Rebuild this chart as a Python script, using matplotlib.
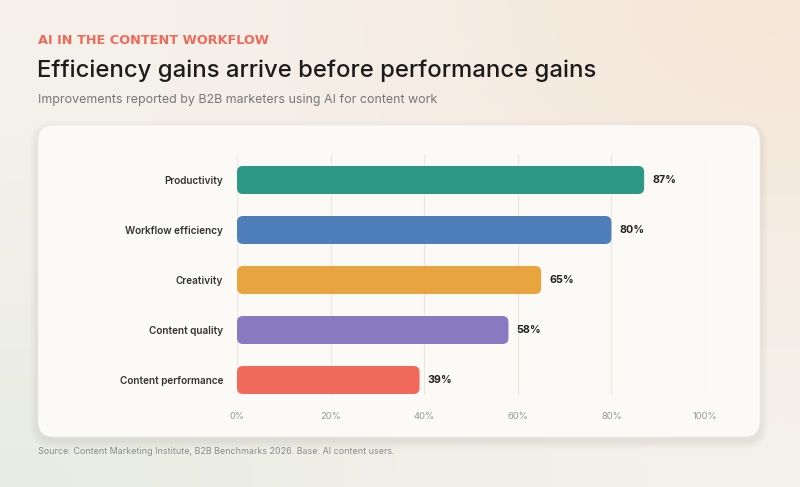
import numpy as np
import matplotlib
matplotlib.use("Agg")
import matplotlib.pyplot as plt
from matplotlib.patches import FancyBboxPatch

categories = ["Productivity", "Workflow efficiency", "Creativity", "Content quality", "Content performance"]
values = [87, 80, 65, 58, 39]
colors = ["#2c9886", "#4f7fbb", "#e8a53f", "#8879c1", "#f0695b"]
xticks = [0, 20, 40, 60, 80, 100]
xtick_labels = ["0%", "20%", "40%", "60%", "80%", "100%"]

W, H = 800, 487
fig = plt.figure(figsize=(8, 4.87), dpi=100)

# background gradient
bg = fig.add_axes([0, 0, 1, 1])
bg.set_axis_off()
yy, xx = np.mgrid[0:1:200j, 0:1:300j]
base = np.array([0.962, 0.945, 0.925])
peach = np.array([0.965, 0.905, 0.850])
green = np.array([0.905, 0.925, 0.890])
wp = np.clip(np.exp(-((xx - 1.0) ** 2 / 0.25 + (yy - 0.0) ** 2 / 0.3)), 0, 1)[..., None]
wg = np.clip(np.exp(-((xx - 0.0) ** 2 / 0.3 + (yy - 1.0) ** 2 / 0.25)), 0, 1)[..., None]
img = base * (1 - wp - wg * 0.8) + peach * wp + green * wg * 0.8
img = np.clip(img, 0, 1)
bg.imshow(img, extent=[0, W, H, 0], aspect="auto")
bg.set_xlim(0, W)
bg.set_ylim(H, 0)

# card soft shadow and card
for i in range(8):
    s = 8 - i
    bg.add_patch(FancyBboxPatch((38 - s, 125 - s + 4), 722 + 2 * s, 312 + 2 * s,
                                boxstyle="round,pad=0,rounding_size=%d" % (16 + s),
                                fc=(0.45, 0.40, 0.33, 0.010), ec="none"))
bg.add_patch(FancyBboxPatch((38, 125), 722, 312, boxstyle="round,pad=0,rounding_size=16",
                            fc="#fcfaf6", ec="#f0ebe4", lw=0.6))

# texts
fig.text(38 / W, 1 - 41 / H, "AI IN THE CONTENT WORKFLOW", color="#f0695b",
         fontsize=9.3, fontweight="bold", family="DejaVu Sans", va="center", ha="left")
fig.text(37 / W, 1 - 71 / H, "Efficiency gains arrive before performance gains", color="#1c1c1c",
         fontsize=17.2, fontweight="medium", family="Inter", va="center", ha="left")
fig.text(38 / W, 1 - 100 / H, "Improvements reported by B2B marketers using AI for content work",
         color="#777777", fontsize=8.95, family="Inter", va="center", ha="left")
fig.text(38 / W, 1 - 452 / H, "Source: Content Marketing Institute, B2B Benchmarks 2026. Base: AI content users.",
         color="#8a8a8a", fontsize=6.45, family="Inter", va="center", ha="left")

# chart axes
left, right = 237, 705
top, bottom = 155, 395
ax = fig.add_axes([left / W, 1 - bottom / H, (right - left) / W, (bottom - top) / H])
ax.patch.set_alpha(0)
ax.set_xlim(0, 100)
ax.set_ylim(4.3, -0.5)
for s in ax.spines.values():
    s.set_visible(False)
for x in xticks:
    ax.axvline(x, color="#ebe6df", lw=0.8, zorder=0)

px_x = (right - left) / 100.0
px_y = (bottom - top) / 4.8
bh = 0.56
r_px = 6.0
for i, (v, c) in enumerate(zip(values, colors)):
    ax.add_patch(FancyBboxPatch((0, i - bh / 2), v, bh,
                                boxstyle="round,pad=0,rounding_size=%f" % (r_px / px_x),
                                mutation_aspect=px_x / px_y,
                                fc=c, ec="none", zorder=2))
    ax.text(v + 1.7, i, f"{v}%", va="center", ha="left", fontsize=7.7, fontweight="bold",
            color="#222222", family="Inter")

ax.set_yticks(range(len(categories)))
ax.set_yticklabels(categories, fontsize=7.2, color="#333333", family="Inter", fontweight="semibold")
ax.tick_params(axis="y", length=0, pad=10)
ax.set_xticks(xticks)
ax.set_xticklabels(xtick_labels, fontsize=6.8, color="#9a9a9a", family="Inter")
ax.tick_params(axis="x", length=0, pad=12)

fig.savefig("out.png", dpi=100)
